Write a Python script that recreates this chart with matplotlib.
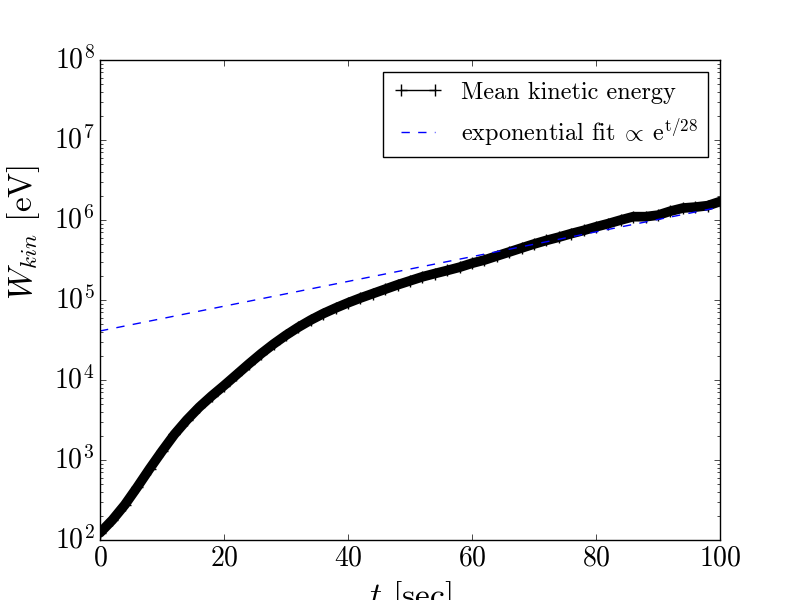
import numpy as np
import matplotlib
matplotlib.use('Agg')
import matplotlib.pyplot as plt

# time axis [sec] and mean kinetic energy [eV]
t_sec = [0, 2, 4, 6, 8, 10, 12, 14, 16, 18,
         20, 22, 24, 26, 28, 30, 32, 34, 36, 38,
         40, 42, 44, 46, 48, 50, 52, 54, 56, 58,
         60, 62, 64, 66, 68, 70, 72, 74, 76, 78,
         80, 82, 84, 86, 88, 90, 92, 94, 96, 98, 100]
w_kin = [123, 178, 275, 457, 776, 1288, 2089, 3162, 4571, 6310,
         8511, 11610, 15850, 21380, 28180, 36310, 45710, 56230, 67610, 79430,
         92260, 1.059e5, 1.202e5, 1.365e5, 1.549e5, 1.738e5, 1.95e5, 2.14e5, 2.34e5, 2.57e5,
         2.88e5, 3.16e5, 3.55e5, 3.98e5, 4.47e5, 5.01e5, 5.56e5, 6.10e5, 6.76e5, 7.41e5,
         8.22e5, 9.02e5, 1.00e6, 1.10e6, 1.10e6, 1.15e6, 1.29e6, 1.41e6, 1.45e6, 1.51e6, 1.70e6]

# exponential fit end points (straight on a log axis)
fit_t = [0, 100]
fit_w = [4.1e4, 1.45e6]

plt.style.use('classic')
plt.rcParams['font.family'] = 'cmr10'
plt.rcParams['mathtext.fontset'] = 'cm'
plt.rcParams['axes.formatter.use_mathtext'] = True

fig = plt.figure(figsize=(8, 6), dpi=100)
ax = fig.add_subplot(111)

# thick band of dense markers in the original
ax.plot(t_sec, w_kin, color='k', lw=7, solid_capstyle='round', solid_joinstyle='round')
ax.plot(t_sec, w_kin, color='k', lw=1, marker='+', ms=8, mew=1,
        label='Mean kinetic energy')
ax.plot(fit_t, fit_w, 'b--', lw=1,
        label=r'exponential fit$\;\propto\!$ e$^{\rm t/28}$')

ax.set_yscale('log')
ax.set_xlim(0, 100)
ax.set_ylim(1e2, 1e8)
ax.tick_params(labelsize=20)
ax.set_xlabel(r'$t$ [sec]', fontsize=24)
ax.set_ylabel(r'$W_{kin}$ [eV]', fontsize=24)
ax.yaxis.set_label_coords(-0.094, 0.64)

ax.legend(loc='upper right', fontsize=17.5, numpoints=2)

fig.savefig('out.png', dpi=100)
